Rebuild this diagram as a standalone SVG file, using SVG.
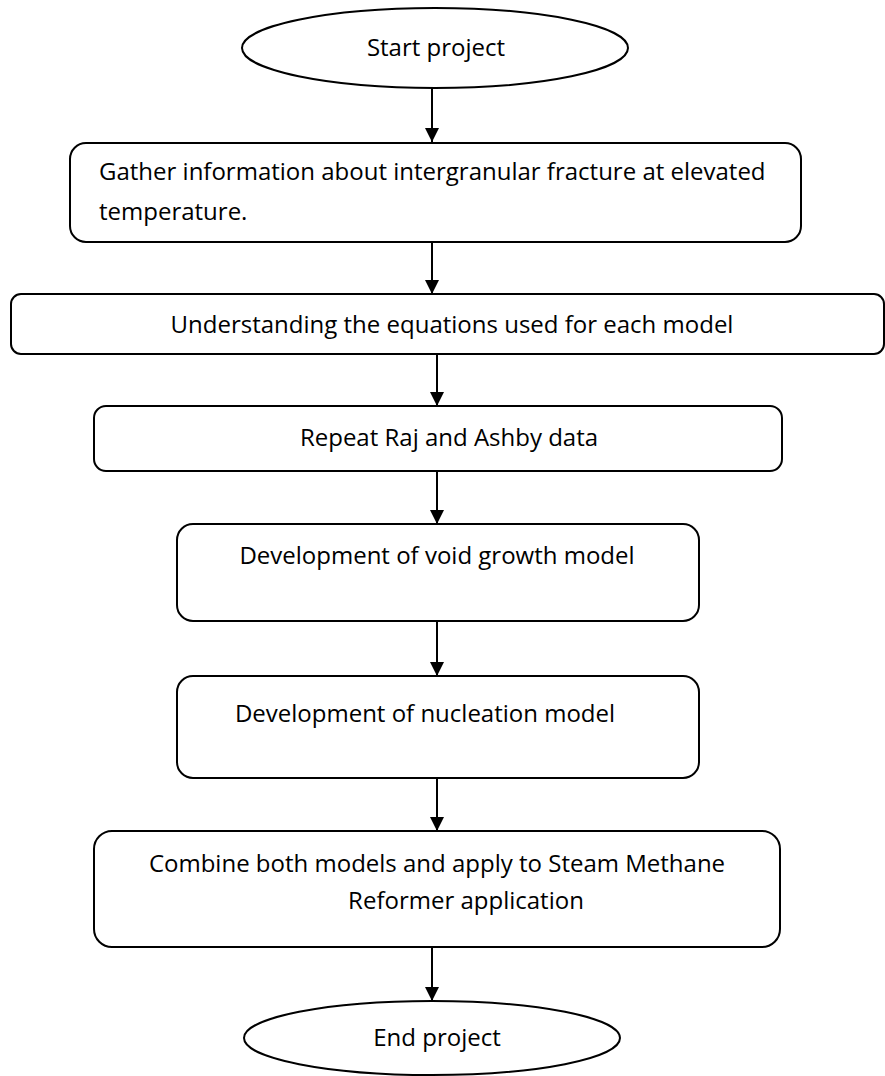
<svg xmlns="http://www.w3.org/2000/svg" width="885" height="1076" viewBox="0 0 885 1076">
  <defs>
    <marker id="arrow" markerWidth="14" markerHeight="14" refX="14" refY="7" orient="auto" markerUnits="userSpaceOnUse">
      <path d="M0,0 L14,7 L0,14 Z" fill="#000"/>
    </marker>
    <style>
      .shape { fill: #fff; stroke: #000; stroke-width: 2; }
      .label { font-family: "Open Sans", "Noto Sans", sans-serif; font-size: 24px; fill: #000; }
      .mid { text-anchor: middle; }
      .link { stroke: #000; stroke-width: 2; fill: none; marker-end: url(#arrow); }
    </style>
  </defs>
  <rect width="885" height="1076" fill="#fff"/>

  <g id="connectors">
    <line class="link" x1="432" y1="88" x2="432" y2="142"/>
    <line class="link" x1="432" y1="242" x2="432" y2="294"/>
    <line class="link" x1="437" y1="354" x2="437" y2="406"/>
    <line class="link" x1="437" y1="471" x2="437" y2="524"/>
    <line class="link" x1="437" y1="621" x2="437" y2="676"/>
    <line class="link" x1="437" y1="778" x2="437" y2="831"/>
    <line class="link" x1="432" y1="947" x2="432" y2="1001"/>
  </g>

  <g id="start">
    <ellipse class="shape" cx="435" cy="48" rx="193" ry="40"/>
    <text class="label mid" x="436" y="56">Start project</text>
  </g>

  <g id="gather">
    <rect class="shape" x="70" y="143" width="731" height="99" rx="16"/>
    <text class="label" x="99" y="180">Gather information about intergranular fracture at elevated</text>
    <text class="label" x="99" y="220">temperature.</text>
  </g>

  <g id="equations">
    <rect class="shape" x="11" y="294" width="873" height="60" rx="10"/>
    <text class="label mid" x="452" y="333">Understanding the equations used for each model</text>
  </g>

  <g id="repeat">
    <rect class="shape" x="94" y="406" width="688" height="65" rx="12"/>
    <text class="label mid" x="449" y="446">Repeat Raj and Ashby data</text>
  </g>

  <g id="void-growth">
    <rect class="shape" x="177" y="524" width="522" height="97" rx="16"/>
    <text class="label mid" x="437" y="564">Development of void growth model</text>
  </g>

  <g id="nucleation">
    <rect class="shape" x="177" y="676" width="522" height="102" rx="16"/>
    <text class="label mid" x="425" y="722">Development of nucleation model</text>
  </g>

  <g id="combine">
    <rect class="shape" x="94" y="831" width="686" height="116" rx="18"/>
    <text class="label mid" x="437" y="872">Combine both models and apply to Steam Methane</text>
    <text class="label mid" x="466" y="909">Reformer application</text>
  </g>

  <g id="end">
    <ellipse class="shape" cx="432" cy="1038" rx="188" ry="37"/>
    <text class="label mid" x="437" y="1046">End project</text>
  </g>
</svg>
